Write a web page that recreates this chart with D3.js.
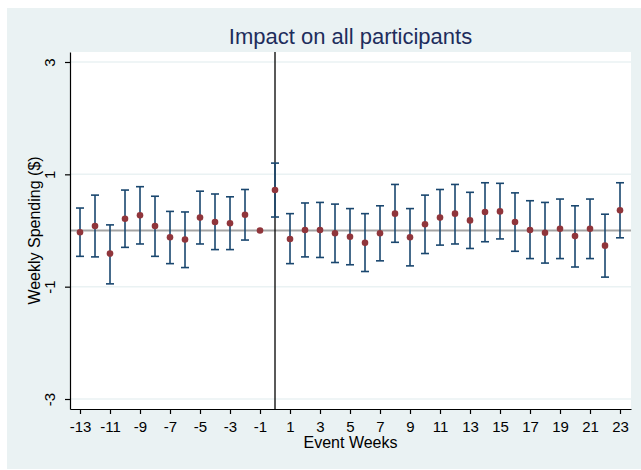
<!DOCTYPE html>
<html>
<head>
<meta charset="utf-8">
<script src="https://cdn.jsdelivr.net/npm/d3@7"></script>
<style>
  body { margin: 0; background: #fff; }
  text { font-family: "Liberation Sans", Arial, Helvetica, sans-serif; }
</style>
</head>
<body>
<div class="chart"></div>
<script>
// event weeks and estimates
var weeks = [-13, -12, -11, -10, -9, -8, -7, -6, -5, -4, -3, -2, -1, 0,
  1, 2, 3, 4, 5, 6, 7, 8, 9, 10, 11, 12, 13, 14, 15, 16, 17, 18, 19, 20, 21, 22, 23];
var coef = [-0.03, 0.08, -0.41, 0.21, 0.27, 0.08, -0.12, -0.16, 0.23, 0.15, 0.13, 0.28, 0.00, 0.72,
  -0.15, 0.01, 0.01, -0.05, -0.11, -0.22, -0.05, 0.30, -0.12, 0.11, 0.23, 0.30, 0.18, 0.33, 0.34,
  0.15, 0.01, -0.04, 0.03, -0.10, 0.03, -0.27, 0.36];
var ciHigh = [0.40, 0.63, 0.10, 0.72, 0.78, 0.61, 0.34, 0.33, 0.70, 0.65, 0.60, 0.73, null, 1.20,
  0.30, 0.49, 0.50, 0.47, 0.39, 0.30, 0.44, 0.82, 0.39, 0.63, 0.73, 0.82, 0.68, 0.85, 0.84,
  0.67, 0.53, 0.50, 0.56, 0.44, 0.56, 0.29, 0.85];
var ciLow = [-0.46, -0.47, -0.95, -0.30, -0.24, -0.46, -0.59, -0.66, -0.24, -0.34, -0.34, -0.17, null, 0.24,
  -0.59, -0.47, -0.48, -0.57, -0.61, -0.73, -0.54, -0.21, -0.63, -0.41, -0.26, -0.24, -0.32, -0.20, -0.15,
  -0.37, -0.50, -0.58, -0.50, -0.65, -0.50, -0.83, -0.13];
var xTicks = [-13, -11, -9, -7, -5, -3, -1, 1, 3, 5, 7, 9, 11, 13, 15, 17, 19, 21, 23];
var yTicks = [-3, -1, 1, 3];

var data = weeks.map(function(w, i) {
  return { week: w, b: coef[i], lo: ciLow[i], hi: ciHigh[i] };
});

var svgWidth = 641;
var svgHeight = 470;
var margin = { top: 52, right: 10, bottom: 61, left: 70 };
var width = svgWidth - margin.left - margin.right;
var height = svgHeight - margin.top - margin.bottom;

var svg = d3.select(".chart").append("svg")
  .attr("width", svgWidth)
  .attr("height", svgHeight);

// stata-ish graph region
svg.append("rect")
  .attr("x", 7).attr("y", 8)
  .attr("width", svgWidth - 7).attr("height", 461)
  .attr("fill", "#EAF2F3");

var chartGroup = svg.append("g")
  .attr("transform", `translate(${margin.left}, ${margin.top})`);

chartGroup.append("rect")
  .attr("width", width).attr("height", height)
  .attr("fill", "#fff");

var x = d3.scaleLinear().domain([-13.667, 23.733]).range([0, width]);
var y = d3.scaleLinear().domain([-3.178, 3.178]).range([height, 0]);

// grid lines
chartGroup.selectAll(".grid")
  .data(yTicks)
  .enter().append("line")
  .attr("x1", 0).attr("x2", width)
  .attr("y1", d => y(d)).attr("y2", d => y(d))
  .attr("stroke", "#EAF2F3")
  .attr("stroke-width", 1.5);

// zero line
chartGroup.append("line")
  .attr("x1", 0).attr("x2", width)
  .attr("y1", y(0)).attr("y2", y(0))
  .attr("stroke", "#A3A3A3")
  .attr("stroke-width", 2);

// event line
chartGroup.append("line")
  .attr("x1", x(0)).attr("x2", x(0))
  .attr("y1", 0).attr("y2", height)
  .attr("stroke", "#000")
  .attr("stroke-width", 1.3);

// axes (plain hyphen for negatives, like the original)
var fmt = d => String(d);
var bottomAxis = d3.axisBottom(x).tickValues(xTicks).tickFormat(fmt).tickSize(5).tickSizeOuter(0);
var leftAxis = d3.axisLeft(y).tickValues(yTicks).tickFormat(fmt).tickSize(5).tickSizeOuter(0);

var xg = chartGroup.append("g")
  .attr("transform", `translate(0, ${height})`)
  .call(bottomAxis);
xg.selectAll("text")
  .attr("y", 12)
  .style("font-size", "15px")
  .attr("fill", "#000");

var yg = chartGroup.append("g").call(leftAxis);
yg.selectAll("text")
  .attr("transform", "rotate(-90)")
  .attr("x", 0)
  .attr("y", -15)
  .attr("dy", 0)
  .style("text-anchor", "middle")
  .style("font-size", "15px")
  .attr("fill", "#000");

[xg, yg].forEach(function(g) {
  g.select(".domain").attr("stroke", "#000").attr("stroke-width", 1.2);
  g.selectAll(".tick line").attr("stroke", "#000").attr("stroke-width", 1.2);
});

// error bars
var withCI = data.filter(d => d.lo !== null);
var bars = chartGroup.selectAll(".ci")
  .data(withCI)
  .enter().append("g")
  .attr("stroke", "#1A476F")
  .attr("stroke-width", 1.6);
bars.append("line")
  .attr("x1", d => x(d.week)).attr("x2", d => x(d.week))
  .attr("y1", d => y(d.lo)).attr("y2", d => y(d.hi));
bars.append("line")
  .attr("x1", d => x(d.week) - 4).attr("x2", d => x(d.week) + 4)
  .attr("y1", d => y(d.hi)).attr("y2", d => y(d.hi));
bars.append("line")
  .attr("x1", d => x(d.week) - 4).attr("x2", d => x(d.week) + 4)
  .attr("y1", d => y(d.lo)).attr("y2", d => y(d.lo));

// points
chartGroup.selectAll("circle")
  .data(data)
  .enter().append("circle")
  .attr("cx", d => x(d.week))
  .attr("cy", d => y(d.b))
  .attr("r", 3.3)
  .attr("fill", "#90353B");

// titles
svg.append("text")
  .attr("x", margin.left + width / 2)
  .attr("y", 44)
  .style("text-anchor", "middle")
  .style("font-size", "22px")
  .attr("fill", "#1E2D5C")
  .text("Impact on all participants");

svg.append("text")
  .attr("x", margin.left + width / 2)
  .attr("y", 448)
  .style("text-anchor", "middle")
  .style("font-size", "16px")
  .text("Event Weeks");

svg.append("text")
  .attr("transform", `translate(40, ${margin.top + height / 2}) rotate(-90)`)
  .style("text-anchor", "middle")
  .style("font-size", "16px")
  .text("Weekly Spending ($)");
</script>
</body>
</html>
